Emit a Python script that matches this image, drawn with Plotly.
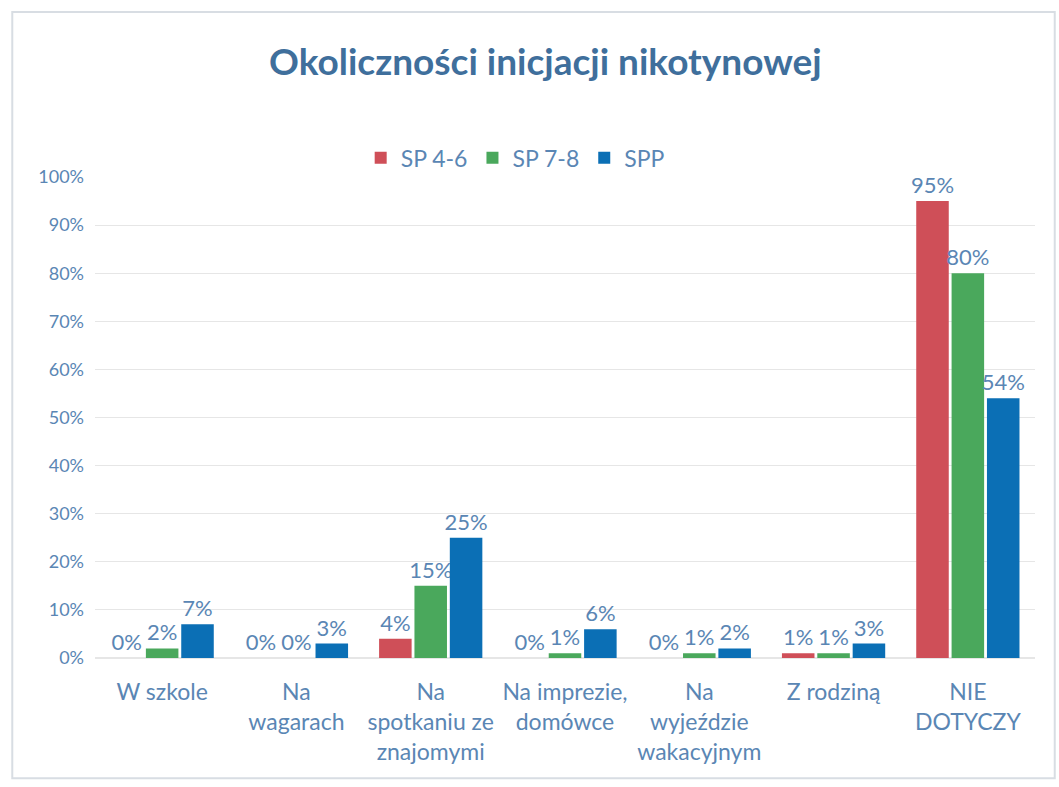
import plotly.graph_objects as go

categories = ["W szkole", "Na<br>wagarach", "Na<br>spotkaniu ze<br>znajomymi",
              "Na imprezie,<br>domówce", "Na<br>wyjeździe<br>wakacyjnym",
              "Z rodziną", "NIE<br>DOTYCZY"]
series_names = ["SP 4-6", "SP 7-8", "SPP"]
sp46 = [0, 0, 4, 0, 0, 1, 95]
sp78 = [2, 0, 15, 1, 1, 1, 80]
spp = [7, 3, 25, 6, 2, 3, 54]
colors = ["#cf4f58", "#4aa85c", "#0b6fb5"]
y_ticks = [0, 10, 20, 30, 40, 50, 60, 70, 80, 90, 100]

text_color = "#5a86b4"
font_family = "Lato, 'Open Sans', sans-serif"

fig = go.Figure()
for name, vals, col in zip(series_names, [sp46, sp78, spp], colors):
    fig.add_trace(go.Bar(
        name=name, x=categories, y=vals,
        marker=dict(color=col, line=dict(width=0)),
        text=[f"{v}%" for v in vals], textposition="outside",
        textfont=dict(size=22, color=text_color, family=font_family),
        cliponaxis=False,
    ))

fig.update_layout(
    width=1059, height=787,
    paper_bgcolor="white", plot_bgcolor="white",
    margin=dict(l=95, r=24, t=177, b=129),
    barmode="group", bargap=0.21, bargroupgap=0.08,
    title=dict(text="<b>Okoliczności inicjacji nikotynowej</b>",
               x=0.515, xanchor="center", y=0.921, yanchor="middle",
               font=dict(size=37, color="#3f6f9c", family=font_family)),
    legend=dict(orientation="h", x=0.447, xanchor="center", y=1.04, yanchor="middle",
                font=dict(size=23, color=text_color, family=font_family),
                itemwidth=30, traceorder="normal"),
    font=dict(family=font_family, color=text_color),
    uniformtext=dict(mode="show", minsize=22),
)
fig.update_yaxes(range=[0, 100], tickvals=y_ticks, ticktext=[f"{t}%" for t in y_ticks],
                 showgrid=True, gridcolor="#e6e6e6", gridwidth=1, zeroline=True,
                 zerolinecolor="#e6e6e6", tickfont=dict(size=18, color=text_color),
                 ticks="", ticklabelstandoff=10)
fig.update_xaxes(showline=False, tickfont=dict(size=23, color=text_color), ticks="",
                 ticklabelstandoff=18)

# thin frame around the chart area
fig.add_shape(type="rect", xref="paper", yref="paper",
              x0=-0.088, x1=1.021, y0=-0.25, y1=1.343,
              line=dict(color="#d8dde3", width=2), layer="below")

fig.write_html("out.html")
